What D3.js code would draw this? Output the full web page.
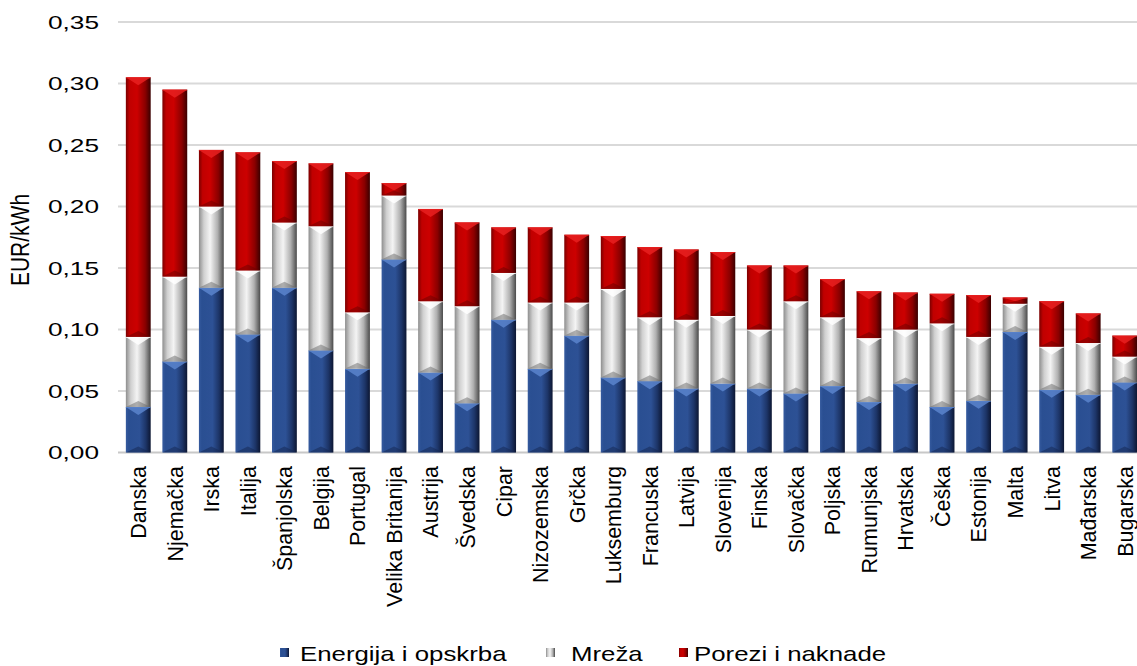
<!DOCTYPE html>
<html>
<head>
<meta charset="utf-8">
<script src="https://cdn.jsdelivr.net/npm/d3@7"></script>
<style>
  html, body { margin: 0; padding: 0; background: #ffffff; }
  svg { display: block; font-family: "Liberation Sans", Arial, sans-serif; }
</style>
</head>
<body>
<svg id="chart" width="1137" height="666"></svg>
<script>
const categories = ["Danska","Njemačka","Irska","Italija","Španjolska","Belgija","Portugal","Velika Britanija","Austrija","Švedska","Cipar","Nizozemska","Grčka","Luksemburg","Francuska","Latvija","Slovenija","Finska","Slovačka","Poljska","Rumunjska","Hrvatska","Češka","Estonija","Malta","Litva","Mađarska","Bugarska"];
const energija = [0.037,0.074,0.134,0.096,0.134,0.083,0.068,0.157,0.065,0.040,0.108,0.068,0.095,0.061,0.058,0.052,0.056,0.052,0.048,0.054,0.041,0.056,0.037,0.042,0.098,0.051,0.047,0.057];
const mreza    = [0.057,0.069,0.066,0.052,0.053,0.101,0.046,0.052,0.058,0.079,0.038,0.054,0.027,0.072,0.052,0.056,0.055,0.048,0.075,0.056,0.052,0.044,0.068,0.052,0.023,0.035,0.042,0.021];
const porezi   = [0.211,0.152,0.046,0.096,0.050,0.051,0.114,0.010,0.075,0.068,0.037,0.061,0.055,0.043,0.057,0.057,0.052,0.052,0.029,0.031,0.038,0.030,0.024,0.034,0.005,0.037,0.024,0.017];
const seriesNames = ["Energija i opskrba","Mreža","Porezi i naknade"];
const yTicks = [0,0.05,0.10,0.15,0.20,0.25,0.30,0.35];
const yTitle = "EUR/kWh";

const svg = d3.select("#chart");
const defs = svg.append("defs");

const palettes = [
  {id:"gBlue", stops:[[0,"#355a9e"],[0.12,"#2a4f92"],[0.55,"#2d5195"],[0.8,"#1d3568"],[1,"#0c1632"]], top:"#5a84cc", bot:"#14264f"},
  {id:"gGrey", stops:[[0,"#8e8e8e"],[0.2,"#d0d0d0"],[0.45,"#f4f4f4"],[0.75,"#b0b0b0"],[1,"#4a4a4a"]], top:"#ffffff", bot:"#6a6a6a"},
  {id:"gRed",  stops:[[0,"#7a0000"],[0.15,"#c00000"],[0.45,"#cc0000"],[0.78,"#8a0000"],[1,"#3a0000"]], top:"#e82020", bot:"#6a0000"}
];
palettes.forEach(p => {
  const g = defs.append("linearGradient").attr("id", p.id).attr("x1","0").attr("x2","1").attr("y1","0").attr("y2","0");
  p.stops.forEach(s => g.append("stop").attr("offset", s[0]).attr("stop-color", s[1]));
});

const x = d3.scaleBand().domain(categories).range([120, 1143]).paddingInner(0.32).paddingOuter(0.16);
const y = d3.scaleLinear().domain([0, 0.35]).range([452.5, 22]);

// gridlines
svg.append("g").selectAll("line").data(yTicks).join("line")
  .attr("x1", 118).attr("x2", 1137)
  .attr("y1", d => y(d)).attr("y2", d => y(d))
  .attr("stroke", d => d === 0 ? "#c8c8c8" : "#d9d9d9")
  .attr("stroke-width", 2);

// y tick labels
const fmt = d3.format(".2f");
svg.append("g").selectAll("text").data(yTicks).join("text")
  .attr("transform", d => `translate(99,${y(d)}) scale(1.38,1)`)
  .attr("dy", "0.35em")
  .attr("text-anchor", "end")
  .attr("font-size", 19)
  .attr("fill", "#000")
  .text(d => fmt(d).replace(".", ","));

// y title
svg.append("text")
  .attr("transform", `translate(29,240) scale(1.25,1) rotate(-90)`)
  .attr("text-anchor", "middle")
  .attr("font-size", 21)
  .attr("fill", "#000")
  .text(yTitle);

// stacked data
const rows = categories.map((c, i) => ({cat: c, s0: energija[i], s1: mreza[i], s2: porezi[i]}));
const stack = d3.stack().keys(["s0","s1","s2"]);
const layers = stack(rows);

const bw = x.bandwidth();
const layerG = svg.append("g").selectAll("g").data(layers).join("g");

layerG.each(function(layer, li) {
  const p = palettes[li];
  const g = d3.select(this);
  g.selectAll("rect").data(layer).join("rect")
    .attr("x", d => x(d.data.cat))
    .attr("y", d => y(d[1]))
    .attr("width", bw)
    .attr("height", d => Math.max(0, y(d[0]) - y(d[1])))
    .attr("fill", `url(#${p.id})`);
  g.selectAll("path.top").data(layer).join("path").attr("class","top")
    .attr("d", d => {
      const x0 = x(d.data.cat), x1 = x0 + bw, xc = x0 + bw / 2;
      const t = y(d[1]), h = Math.min(8, (y(d[0]) - y(d[1])) * 0.6);
      return `M${x0},${t}L${x1},${t}L${xc},${t + h}Z`;
    })
    .attr("fill", p.top).attr("opacity", 0.85);
  g.selectAll("path.bot").data(layer).join("path").attr("class","bot")
    .attr("d", d => {
      const x0 = x(d.data.cat), x1 = x0 + bw, xc = x0 + bw / 2;
      const b = y(d[0]), h = Math.min(6, (y(d[0]) - y(d[1])) * 0.4);
      return `M${x0},${b}L${x1},${b}L${xc},${b - h}Z`;
    })
    .attr("fill", p.bot).attr("opacity", 0.5);
  g.selectAll("line").data(layer).join("line")
    .attr("x1", d => x(d.data.cat)).attr("x2", d => x(d.data.cat) + bw)
    .attr("y1", d => y(d[1]) + 0.5).attr("y2", d => y(d[1]) + 0.5)
    .attr("stroke", p.top).attr("stroke-width", 1).attr("opacity", 0.7);
});

// x labels
svg.append("g").selectAll("text").data(categories).join("text")
  .attr("transform", d => `translate(${x(d) + bw / 2},466) scale(1.05,1) rotate(-90)`)
  .attr("dy", "0.35em")
  .attr("text-anchor", "end")
  .attr("font-size", 21.5)
  .attr("fill", "#000")
  .text(d => d);

// legend
const legendX = [{m:280, t:300}, {m:546, t:571}, {m:679, t:694}];
const leg = svg.append("g").selectAll("g").data(seriesNames).join("g");
leg.append("rect")
  .attr("x", (d, i) => legendX[i].m).attr("y", 648)
  .attr("width", 9).attr("height", 9)
  .attr("fill", (d, i) => `url(#${palettes[i].id})`);
leg.append("text")
  .attr("transform", (d, i) => `translate(${legendX[i].t},660.5) scale(1.29,1)`)
  .attr("font-size", 20)
  .attr("fill", "#000")
  .text(d => d);
</script>
</body>
</html>
